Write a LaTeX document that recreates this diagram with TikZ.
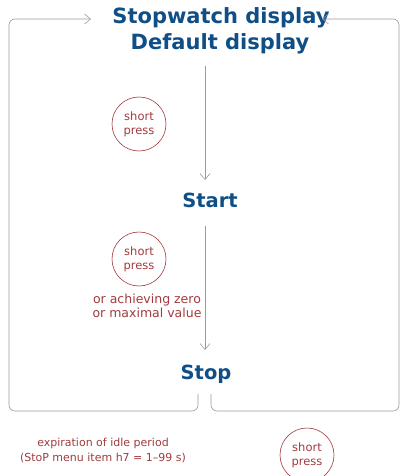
\documentclass[tikz,border=0pt]{standalone}
\usepackage{fontspec}
\setmainfont{DejaVu Sans}
\usetikzlibrary{arrows.meta,positioning}
\definecolor{watch-blue}{HTML}{0F4F86}
\definecolor{watch-red}{HTML}{A23A3E}
\definecolor{watch-line}{HTML}{9A9A9A}

\begin{document}
\begin{tikzpicture}[
  x=1pt, y=-1pt,
  state/.style={
    inner sep=0pt, text=watch-blue,
    font=\fontsize{19.5}{26}\selectfont\bfseries
  },
  press/.style={
    circle, draw=watch-red, semithick, minimum size=54pt, inner sep=0pt,
    align=center, text=watch-red,
    font=\fontsize{11.5}{14}\selectfont
  },
  note/.style={
    align=center, text=watch-red, inner sep=0pt
  },
  link/.style={
    -{Straight Barb[length=6pt,width=10pt]}, watch-line, semithick
  }
]
\useasboundingbox (0,0) rectangle (399,476);

%% States
\node[state, font=\fontsize{21}{26}\selectfont\bfseries] (title) at (221,18) {Stopwatch display};
\node[state, font=\fontsize{21}{26}\selectfont\bfseries] (deflt) at (220,44) {Default display};
\node[state] (start) at (210,200) {Start};
\node[state] (stop) at (206,374) {Stop};

%% Events
\node[press] (p1) at (139,124) {short\\press};
\node[press] (p2) at (139,259) {short\\press};
\node[press] (p3) at (307,455) {short\\press};
\node[note, font=\fontsize{12.5}{14}\selectfont] (limit) at (147,306)
  {or achieving zero\\or maximal value};
\node[note, font=\fontsize{11}{15}\selectfont] (idle) at (103,451)
  {expiration of idle period\\(StoP menu item h7 = 1–99 s)};

%% Loop ends
\coordinate (inL) at (91,19);
\coordinate (inR) at (322,19);
\coordinate (cornL) at (9,411);
\coordinate (cornR) at (399,411);

%% Arrows
\draw[link] (205,66) -- (205,180);
\draw[link] (205,226) -- (205,350);
\draw[link, rounded corners=6pt] (198,394) |- (cornL) |- (inL);
\draw[link, rounded corners=6pt] (211,394) |- (cornR) |- (inR);

\end{tikzpicture}
\end{document}
